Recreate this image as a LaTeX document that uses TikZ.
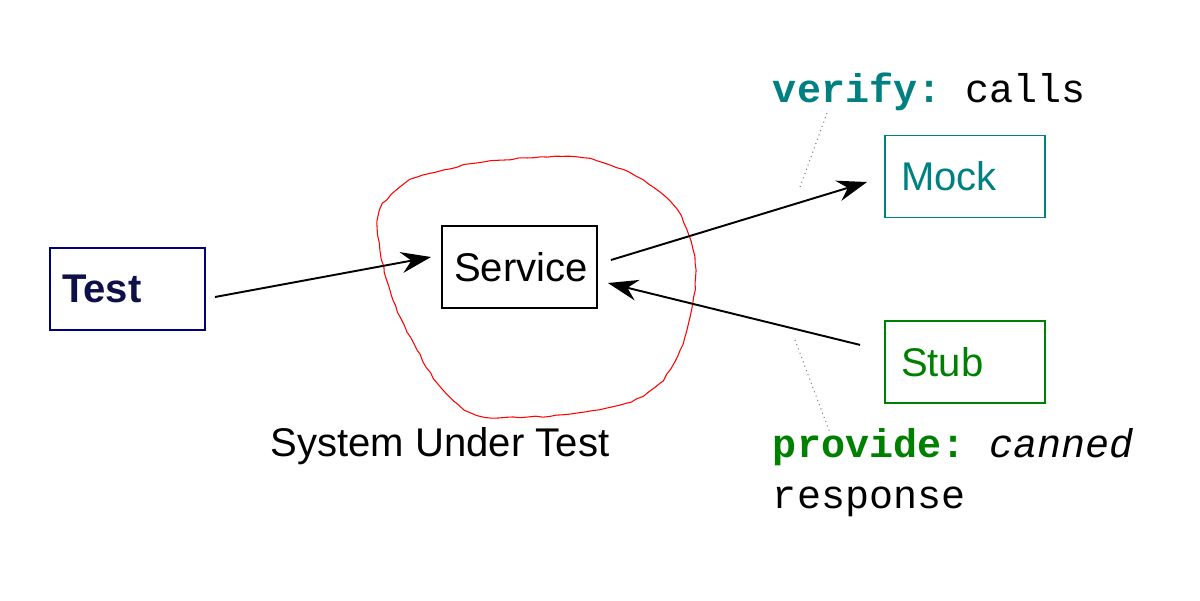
\documentclass[tikz,border=0pt]{standalone}
\usepackage{fontspec}
\setmainfont{Liberation Sans}
\setmonofont{Liberation Mono}
\usepackage{tikz}
\usetikzlibrary{arrows.meta,positioning,decorations.pathmorphing}
\definecolor{navyblue}{RGB}{0,0,128}
\definecolor{testink}{RGB}{16,16,72}
\definecolor{mockteal}{RGB}{0,128,128}
\definecolor{stubgreen}{RGB}{0,128,0}

\begin{document}
\begin{tikzpicture}[x=0.02cm,y=-0.02cm,->,>={Stealth[length=0.6cm,width=0.42cm,inset=0.2cm]},
    line width=1.1pt,font=\fontsize{22.8}{27}\selectfont,
    base/.style={rectangle,draw,line width=1.1pt,minimum height=1.64cm,inner xsep=0.24cm,
        text width=2.62cm,align=left},
    wide/.style={inner xsep=0.32cm,text width=2.56cm},
    note/.style={font=\fontsize{22.8}{29}\selectfont\ttfamily,align=left,inner sep=0pt},
    hint/.style={-,gray,dotted,line width=0.6pt}]

    \useasboundingbox (0,0) rectangle (1200,600);

    % system under test
    \draw[-,red,line width=0.6pt,decorate,
        decoration={random steps,segment length=4pt,amplitude=0.4pt}]
        plot[smooth cycle,tension=0.6] coordinates {
        (477,163) (527,158) (577,157) (610,165) (643,180) (677,210) (693,250)
        (695,283) (690,317) (680,350) (660,383) (627,403) (577,413) (527,417)
        (477,415) (443,390) (417,350) (393,300) (380,250) (378,217) (387,200)
        (410,180) (443,170)};

    \node[base, draw=navyblue, text=testink, font=\fontsize{22.8}{27}\selectfont\bfseries] (test) at (127.5,289)
    {
        Test
    };
    \node[base] (service) at (519.5,267)
    {
        Service
    };
    \node[base, wide, draw=mockteal, text=mockteal] (mock) at (965,176.5)
    {
        Mock
    };
    \node[base, wide, draw=stubgreen, text=stubgreen, below=2.04cm of mock] (stub)
    {
        Stub
    };

    \node[anchor=base] (sut) at (440,456) {System Under Test};

    \node[note, anchor=base west] (verify) at (772,102)
    {
        \textcolor{mockteal}{\bfseries verify:} calls
    };
    \node[note, anchor=base west] (provide) at (772,508)
    {
        \textcolor{stubgreen}{\bfseries provide:} {\itshape canned}\\response
    };

    \coordinate (verifytip) at (827,113);
    \coordinate (mockcall) at (800,187);
    \coordinate (stubcall) at (795,340);
    \coordinate (providetip) at (830,433);

    \path[]
    {
        ([shift={(9,8)}]test.east) edge ([shift={(-10,-10)}]service.west)
        ([shift={(13,-7)}]service.east) edge ([shift={(-17,5.5)}]mock.west)
        ([shift={(-24,-17.5)}]stub.west) edge ([shift={(10,16)}]service.east)
    };

    \draw[hint] (verifytip) -- (mockcall);
    \draw[hint] (stubcall) -- (providetip);
\end{tikzpicture}
\end{document}
